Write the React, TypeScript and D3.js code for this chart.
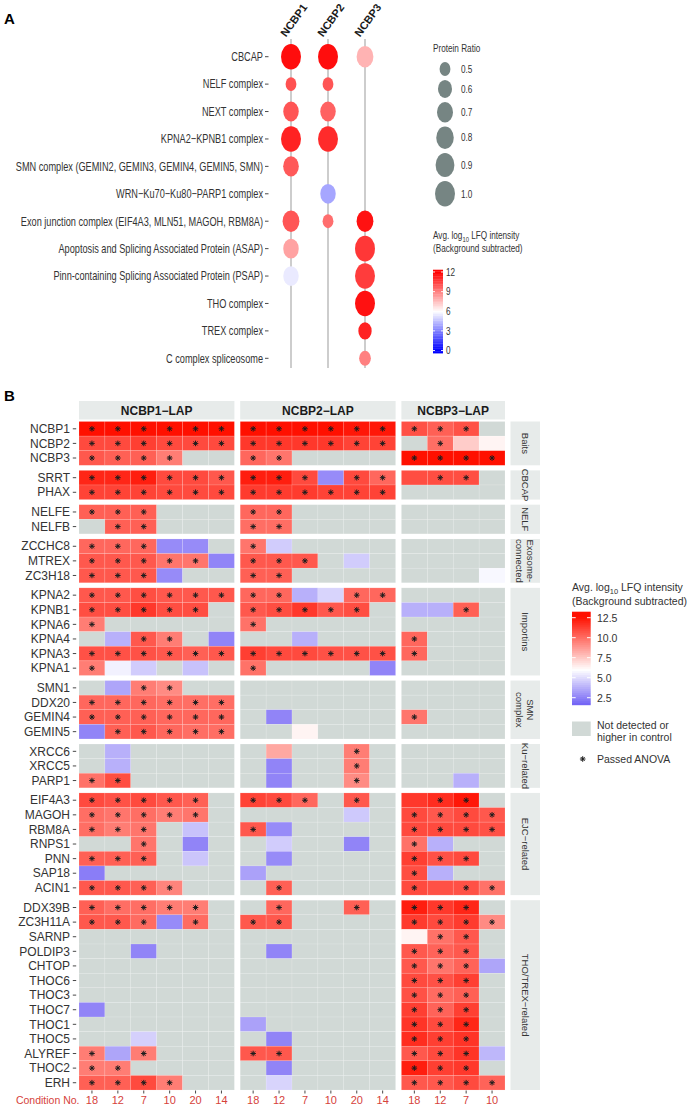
import React from 'react';
import * as d3 from 'd3';

// ---------------- Panel A data ----------------
const baitsA = ['NCBP1', 'NCBP2', 'NCBP3'];
const complexesA = [
  'CBCAP',
  'NELF complex',
  'NEXT complex',
  'KPNA2\u2212KPNB1 complex',
  'SMN complex (GEMIN2, GEMIN3, GEMIN4, GEMIN5, SMN)',
  'WRN\u2212Ku70\u2212Ku80\u2212PARP1 complex',
  'Exon junction complex (EIF4A3, MLN51, MAGOH, RBM8A)',
  'Apoptosis and Splicing Associated Protein (ASAP)',
  'Pinn-containing Splicing Associated Protein (PSAP)',
  'THO complex',
  'TREX complex',
  'C complex spliceosome',
];
// protein ratio per complex, for [NCBP1, NCBP2, NCBP3]
const ratioA: (number | null)[][] = [
  [1.0, 1.0, 0.75],
  [0.5, 0.5, null],
  [0.67, 0.67, null],
  [1.0, 1.0, null],
  [0.68, null, null],
  [null, 0.67, null],
  [0.75, 0.5, 0.75],
  [0.67, null, 1.0],
  [0.67, null, 1.0],
  [null, null, 1.0],
  [null, null, 0.57],
  [null, null, 0.52],
];
const intensityA: (number | null)[][] = [
  [11.7, 11.7, 7.8],
  [10.1, 10.0, null],
  [10.0, 9.7, null],
  [11.2, 11.0, null],
  [9.9, null, null],
  [null, 3.9, null],
  [10.0, 9.4, 11.6],
  [8.2, null, 10.7],
  [5.5, null, 10.6],
  [null, null, 11.6],
  [null, null, 11.2],
  [null, null, 9.0],
];
const ratioBreaks = [0.5, 0.6, 0.7, 0.8, 0.9, 1.0];
const colorBreaksA = [0, 3, 6, 9, 12];

// ---------------- Panel B data ----------------
const panelsB = ['NCBP1\u2212LAP', 'NCBP2\u2212LAP', 'NCBP3\u2212LAP'];
const conditionsB = [
  ['18', '12', '7', '10', '20', '14'],
  ['18', '12', '7', '10', '20', '14'],
  ['18', '12', '7', '10'],
];
const groupNames = ['Baits', 'CBCAP', 'NELF', 'Exosome-\nconnected', 'Importins', 'SMN\ncomplex', 'Ku\u2212related', 'EJC\u2212related', 'THO/TREX\u2212related'];
const groupSizes = [3, 2, 2, 3, 6, 4, 3, 7, 13];
const proteins = [
  'NCBP1', 'NCBP2', 'NCBP3',
  'SRRT', 'PHAX',
  'NELFE', 'NELFB',
  'ZCCHC8', 'MTREX', 'ZC3H18',
  'KPNA2', 'KPNB1', 'KPNA6', 'KPNA4', 'KPNA3', 'KPNA1',
  'SMN1', 'DDX20', 'GEMIN4', 'GEMIN5',
  'XRCC6', 'XRCC5', 'PARP1',
  'EIF4A3', 'MAGOH', 'RBM8A', 'RNPS1', 'PNN', 'SAP18', 'ACIN1',
  'DDX39B', 'ZC3H11A', 'SARNP', 'POLDIP3', 'CHTOP', 'THOC6', 'THOC3', 'THOC7', 'THOC1', 'THOC5', 'ALYREF', 'THOC2', 'ERH',
];
const N = null;
const lfqNCBP1: (number | null)[][] = [
  [12.8, 12.8, 12.8, 12.6, 12.6, 12.6],
  [11.0, 11.0, 11.3, 11.0, 11.0, 11.0],
  [10.6, 10.4, 10.4, 9.6, N, N],
  [12.0, 12.0, 12.2, 11.0, 11.0, 10.6],
  [11.2, 11.2, 11.2, 11.0, 11.0, 11.0],
  [10.4, 10.4, 10.4, N, N, N],
  [N, 10.4, 10.4, N, N, N],
  [10.2, 10.2, 10.2, 2.8, 2.8, N],
  [10.6, 10.6, 10.6, 9.8, 9.8, 2.6],
  [10.6, 10.6, 10.6, 2.8, N, N],
  [10.6, 10.6, 10.9, 10.6, 10.6, 10.6],
  [10.9, 10.9, 11.5, 10.9, 10.9, N],
  [9.6, N, N, N, N, N],
  [N, 3.8, 10.6, 9.6, N, 2.6],
  [10.8, 10.8, 10.8, 10.6, 10.4, 10.6],
  [9.6, 5.6, 4.6, N, 4.3, N],
  [N, 3.5, 9.6, 9.2, N, N],
  [10.2, 10.2, 10.2, 10.0, 10.0, 10.0],
  [10.4, 10.4, 10.4, 10.2, 10.2, 10.2],
  [2.6, 10.4, 10.6, 10.2, 10.0, 10.0],
  [N, 3.8, N, N, N, N],
  [N, 3.8, N, N, N, N],
  [9.9, 10.9, N, N, N, N],
  [11.0, 10.8, 11.0, 10.6, 10.4, N],
  [10.0, 9.8, 10.0, 9.6, 9.8, N],
  [10.0, 9.6, 9.8, N, 4.3, N],
  [N, N, 9.8, N, 2.6, N],
  [10.4, 10.4, 10.4, N, 4.4, N],
  [2.4, N, N, N, N, N],
  [10.6, 10.6, 10.4, 9.4, N, N],
  [10.4, 10.0, 10.0, 9.6, 9.6, N],
  [10.6, 10.6, 10.1, 2.8, 10.1, N],
  [N, N, N, N, N, N],
  [N, N, 2.6, N, N, N],
  [N, N, N, N, N, N],
  [N, N, N, N, N, N],
  [N, N, N, N, N, N],
  [2.6, N, N, N, N, N],
  [N, N, N, N, N, N],
  [N, N, 4.7, N, N, N],
  [9.6, 3.5, 9.6, N, N, N],
  [9.6, 9.6, N, N, N, N],
  [10.4, 10.4, 11.0, 9.6, N, N],
];
const anovaNCBP1 = [
  '111111', '111111', '1111..', '111111', '111111', '111...', '.11...', '111...', '11111.', '111...',
  '111111', '11111.', '1.....', '..11..', '111111', '1.....',
  '..11..', '111111', '111111', '.11111',
  '......', '......', '11....',
  '11111.', '11111.', '111...', '..1...', '111...', '......', '1111..',
  '11111.', '111.1.', '......', '......', '......', '......', '......', '......', '......', '......', '1.1...', '11....', '1111..',
];
const lfqNCBP2: (number | null)[][] = [
  [12.8, 12.8, 12.6, 12.6, 12.4, 12.4],
  [11.5, 11.5, 11.5, 11.5, 11.2, 11.2],
  [10.2, 9.8, N, N, N, N],
  [12.2, 12.2, 11.0, 2.8, 11.0, 10.2],
  [11.4, 11.4, 11.4, 11.2, 11.2, 11.2],
  [10.2, 10.2, N, N, N, N],
  [10.0, 10.0, N, N, N, N],
  [9.8, 4.6, N, N, N, N],
  [10.6, 10.6, 10.6, N, 4.6, N],
  [10.4, 10.4, N, N, N, N],
  [10.2, 10.2, 3.8, 4.8, 10.2, 10.2],
  [10.6, 10.9, 11.5, 10.6, 10.9, N],
  [9.9, N, N, N, N, N],
  [N, N, 3.8, N, N, N],
  [11.3, 11.0, 11.0, 10.8, 10.8, 10.8],
  [9.9, N, N, N, N, 2.6],
  [N, N, N, N, N, N],
  [N, N, N, N, N, N],
  [N, 2.6, N, N, N, N],
  [N, N, 6.3, N, N, N],
  [N, 8.4, N, N, 9.6, N],
  [N, 2.6, N, N, 9.6, N],
  [N, 2.6, N, N, 9.2, N],
  [11.2, 11.0, 10.2, N, 10.6, N],
  [N, N, N, N, 4.5, N],
  [10.6, 2.8, N, N, N, N],
  [N, 4.6, N, N, 2.6, N],
  [N, 2.8, N, N, N, N],
  [3.4, N, N, N, N, N],
  [N, 10.4, N, N, N, N],
  [N, 10.2, N, N, 10.4, N],
  [10.6, 10.6, N, N, N, N],
  [N, N, N, N, N, N],
  [N, 2.6, N, N, N, N],
  [N, N, N, N, N, N],
  [N, N, N, N, N, N],
  [N, N, N, N, N, N],
  [N, N, N, N, N, N],
  [3.4, N, N, N, N, N],
  [N, 2.6, N, N, N, N],
  [10.6, 10.6, N, N, N, N],
  [N, 2.6, N, N, N, N],
  [N, 4.8, N, N, N, N],
];
const anovaNCBP2 = [
  '111111', '111111', '11....', '111.11', '111111', '11....', '11....', '1.....', '111...', '11....',
  '11..11', '11111.', '1.....', '......', '111111', '1.....',
  '......', '......', '......', '......',
  '....1.', '....1.', '....1.',
  '111.1.', '......', '1.....', '......', '......', '......', '.1....',
  '.1..1.', '11....', '......', '......', '......', '......', '......', '......', '......', '......', '11....', '......', '......',
];
const lfqNCBP3: (number | null)[][] = [
  [10.8, 10.4, 10.8, N],
  [N, 10.0, 7.4, 6.3],
  [12.6, 12.6, 12.8, 12.6],
  [10.9, 10.9, 10.9, N],
  [N, N, N, N],
  [N, N, N, N],
  [N, N, N, N],
  [N, N, N, N],
  [N, N, N, N],
  [N, N, N, 5.8],
  [N, N, N, N],
  [3.8, 3.8, 10.4, N],
  [N, N, N, N],
  [10.2, N, N, N],
  [10.2, N, N, N],
  [N, N, N, N],
  [N, N, N, N],
  [N, N, N, N],
  [9.8, N, N, N],
  [N, N, N, N],
  [N, N, N, N],
  [N, N, N, N],
  [N, N, 3.8, N],
  [11.5, 11.8, 12.4, N],
  [11.0, 10.6, 11.0, 10.6],
  [11.0, 11.0, 11.0, 10.8],
  [9.9, 3.8, N, N],
  [11.3, 10.8, 11.0, N],
  [10.9, 3.8, N, N],
  [11.0, 10.8, 10.8, 9.9],
  [12.2, 11.5, 12.0, N],
  [11.4, 11.0, 11.4, 9.2],
  [6.3, 9.9, 10.6, N],
  [10.6, 10.3, 10.6, N],
  [10.6, 9.8, 10.3, 3.5],
  [11.0, 10.8, 11.3, N],
  [10.8, 10.1, 10.4, N],
  [11.3, 10.3, 11.3, N],
  [11.6, 11.0, 12.0, N],
  [11.8, 11.3, 11.6, N],
  [10.6, 11.0, 11.6, 4.0],
  [12.2, 11.3, 11.5, N],
  [10.6, 10.6, 11.0, 10.3],
];
const anovaNCBP3 = [
  '111.', '.1..', '1111', '.11.', '....', '....', '....', '....', '....', '....',
  '....', '..1.', '....', '1...', '1...', '....',
  '....', '....', '1...', '....',
  '....', '....', '....',
  '.11.', '1111', '1111', '1...', '111.', '1...', '1.11',
  '111.', '1111', '.11.', '111.', '111.', '111.', '111.', '111.', '111.', '111.', '111.', '111.', '1111',
];
const lfqPanels = [lfqNCBP1, lfqNCBP2, lfqNCBP3];
const anovaPanels = [anovaNCBP1, anovaNCBP2, anovaNCBP3];
const colorBreaksB = [2.5, 5.0, 7.5, 10.0, 12.5];

const FONT = '"Liberation Sans", Arial, Helvetica, sans-serif';
const TXT = '#333333';
const GREY = '#d1d9d6';
const STRIP = '#e7ebea';
const COND = '#d6423b';

function starPath(cx: number, cy: number, r = 2.8) {
  const k = r * 0.72;
  return `M${cx - r},${cy}H${cx + r}M${cx},${cy - r}V${cy + r}M${cx - k},${cy - k}L${cx + k},${cy + k}M${cx - k},${cy + k}L${cx + k},${cy - k}`;
}

export default function App() {
  // ---------- Panel A ----------
  const sx = 0.78; // horizontal squeeze of panel A graphics
  const tx = 0.735; // horizontal squeeze of panel A axis text
  const colA = d3.scalePoint<string>().domain(baitsA).range([291, 365]);
  const rowA = d3.scalePoint<string>().domain(complexesA).range([56.7, 358.3]);
  const colorA = d3.scaleLinear<string>().domain([0, 6, 12]).range(['#0000ff', '#ffffff', '#ff0000']).interpolate(d3.interpolateRgb).clamp(true);
  const sizeNorm = d3.scaleLinear().domain([0.48, 1]).range([0, 1]).clamp(true);
  const rPx = d3.scaleLinear().domain([0, 1]).range([5.5, 12.8]);
  const radius = (v: number) => rPx(Math.sqrt(sizeNorm(v)));

  const keyY: number[] = [];
  ratioBreaks.forEach((b, i) => {
    if (i === 0) keyY.push(69);
    else keyY.push(keyY[i - 1] + radius(ratioBreaks[i - 1]) + radius(b) + 4);
  });
  const barAy = d3.scaleLinear().domain([0, 12]).range([350.5, 272]);
  const barASteps = d3.range(-0.4, 12.3, 0.25);

  // ---------- Panel B ----------
  const cw = 25.9;
  const panelGap = 5.8;
  const px0 = 79;
  const rowH = 14.6;
  const groupGap = 5.09;
  const rowTop = 421.5;
  const panelStarts = conditionsB.reduce<number[]>((acc, c, i) => {
    acc.push(i === 0 ? px0 : acc[i - 1] + conditionsB[i - 1].length * cw + panelGap);
    return acc;
  }, []);
  const colScales = conditionsB.map((c, i) =>
    d3.scaleBand<string>().domain(c).range([panelStarts[i], panelStarts[i] + c.length * cw])
  );
  const groupStarts: number[] = [];
  let cum = 0;
  groupSizes.forEach((n, i) => {
    groupStarts.push(rowTop + cum * rowH + i * groupGap);
    cum += n;
  });
  const groupFirst: number[] = [];
  let gi0 = 0;
  groupSizes.forEach((n) => {
    groupFirst.push(gi0);
    gi0 += n;
  });
  const rowScales = groupSizes.map((n, i) =>
    d3.scaleBand<string>().domain(proteins.slice(groupFirst[i], groupFirst[i] + n)).range([groupStarts[i], groupStarts[i] + n * rowH])
  );
  const colorB = d3.scaleLinear<string>().domain([1.6, 6, 12.6]).range(['#7060f5', '#ffffff', '#ff1000']).interpolate(d3.interpolateRgb).clamp(true);
  const barBy = d3.scaleLinear().domain([2.5, 12.5]).range([697.7, 617.7]);
  const barBSteps = d3.range(1.6, 13.25, 0.25);
  const stripX0 = 510.5;
  const stripX1 = 540;
  const bottomY = groupStarts[groupStarts.length - 1] + groupSizes[groupSizes.length - 1] * rowH;

  return (
    <svg width={690} height={1106} style={{ position: 'absolute', left: 0, top: 0, background: '#fff' }} fontFamily={FONT}>
      {/* ================= Panel A ================= */}
      <text x={4} y={24} fontSize={15} fontWeight="bold" fill="#000">A</text>
      {baitsA.map((b) => (
        <text key={b} x={colA(b)! - 5} y={37.5} transform={`rotate(-54 ${colA(b)! - 5} 37.5)`} fontSize={11} fontWeight="bold" fill="#1a1a1a">{b}</text>
      ))}
      <g transform={`scale(${tx},1)`}>
        {complexesA.map((c) => (
          <text key={c} x={263 / tx} y={rowA(c)! + 4.3} textAnchor="end" fontSize={12.5} fill={TXT}>{c}</text>
        ))}
      </g>
      <g transform={`scale(${sx},1)`}>
        {baitsA.map((b) => (
          <line key={b} x1={colA(b)! / sx} x2={colA(b)! / sx} y1={39} y2={368} stroke="#8f8f8f" strokeWidth={1} />
        ))}
        {complexesA.map((c) => (
          <line key={c} x1={265 / sx} x2={268.5 / sx} y1={rowA(c)!} y2={rowA(c)!} stroke={TXT} strokeWidth={1} />
        ))}
        {complexesA.map((c, ci) =>
          baitsA.map((b, bi) => {
            const r = ratioA[ci][bi];
            const v = intensityA[ci][bi];
            if (r == null || v == null) return null;
            return <circle key={c + b} cx={colA(b)! / sx} cy={rowA(c)!} r={radius(r)} fill={colorA(v)} />;
          })
        )}
        {/* legend: protein ratio */}
        <text x={433 / sx} y={52.5} fontSize={10.5} fill={TXT}>Protein Ratio</text>
        {ratioBreaks.map((b, i) => (
          <g key={b}>
            <circle cx={445 / sx} cy={keyY[i]} r={radius(b)} fill="#768583" />
            <text x={461 / sx} y={keyY[i] + 3.8} fontSize={10.5} fill={TXT}>{b.toFixed(1)}</text>
          </g>
        ))}
        {/* legend: colorbar */}
        <text x={433 / sx} y={239.5} fontSize={10.5} fill={TXT}>
          Avg. log<tspan fontSize={7.5} dy={3}>10</tspan><tspan dy={-3}> LFQ intensity</tspan>
        </text>
        <text x={433 / sx} y={252.5} fontSize={10.5} fill={TXT}>(Background subtracted)</text>
        {barASteps.map((s) => (
          <rect key={s} x={433 / sx} y={barAy(s + 0.25)} width={10 / sx} height={barAy(s) - barAy(s + 0.25) + 0.3} fill={colorA(s + 0.125)} />
        ))}
        {colorBreaksA.map((b) => (
          <g key={b}>
            <line x1={433 / sx} x2={435 / sx} y1={barAy(b)} y2={barAy(b)} stroke="#fff" strokeWidth={1} />
            <line x1={441 / sx} x2={443 / sx} y1={barAy(b)} y2={barAy(b)} stroke="#fff" strokeWidth={1} />
            <text x={446 / sx} y={barAy(b) + 3.8} fontSize={10.5} fill={TXT}>{b}</text>
          </g>
        ))}
      </g>

      {/* ================= Panel B ================= */}
      <text x={4} y={401} fontSize={15} fontWeight="bold" fill="#000">B</text>
      {panelsB.map((p, pi) => (
        <g key={p}>
          <rect x={panelStarts[pi]} y={401} width={conditionsB[pi].length * cw} height={18.5} fill={STRIP} />
          <text x={panelStarts[pi] + (conditionsB[pi].length * cw) / 2} y={414.5} textAnchor="middle" fontSize={12} fontWeight="bold" fill="#1a1a1a">{p}</text>
        </g>
      ))}
      {groupNames.map((g, gi) => {
        const y0 = groupStarts[gi];
        const h = groupSizes[gi] * rowH;
        const lines = g.split('\n');
        const cx = (stripX0 + stripX1) / 2;
        const cy = y0 + h / 2;
        return (
          <g key={g}>
            <rect x={stripX0} y={y0} width={stripX1 - stripX0} height={h} fill={STRIP} />
            <g transform={`translate(${cx},${cy}) rotate(90)`}>
              {lines.map((l, li) => (
                <text key={li} x={0} y={(li - (lines.length - 1) / 2) * 11.4} textAnchor="middle" dominantBaseline="central" fontSize={9.5} fill={TXT}>{l}</text>
              ))}
            </g>
          </g>
        );
      })}
      {/* row labels */}
      {groupNames.map((g, gi) =>
        rowScales[gi].domain().map((prot) => {
          const yc = rowScales[gi](prot)! + rowH / 2;
          return (
            <g key={prot}>
              <text x={70} y={yc + 4.2} textAnchor="end" fontSize={12} fill={TXT}>{prot}</text>
              <line x1={72.8} x2={76.2} y1={yc} y2={yc} stroke={TXT} strokeWidth={0.9} />
            </g>
          );
        })
      )}
      {/* tiles */}
      {panelsB.map((p, pi) =>
        groupNames.map((g, gi) =>
          rowScales[gi].domain().map((prot, ri) => {
            const pIdx = groupFirst[gi] + ri;
            return conditionsB[pi].map((c, ci) => {
              const v = lfqPanels[pi][pIdx][ci];
              const x = colScales[pi](c)!;
              const y = rowScales[gi](prot)!;
              const star = anovaPanels[pi][pIdx][ci] === '1';
              return (
                <g key={`${pi}-${prot}-${ci}`}>
                  <rect x={x} y={y} width={cw} height={rowH} fill={v == null ? GREY : colorB(v)} stroke="rgba(255,255,255,0.28)" strokeWidth={0.5} />
                  {star && <path d={starPath(x + cw / 2, y + rowH / 2)} stroke="#1c1c1c" strokeWidth={1} fill="none" />}
                </g>
              );
            });
          })
        )
      )}
      {/* bottom axis */}
      {panelsB.map((p, pi) =>
        conditionsB[pi].map((c) => {
          const xc = colScales[pi](c)! + cw / 2;
          return (
            <g key={`ax${pi}${c}`}>
              <line x1={xc} x2={xc} y1={bottomY + 0.5} y2={bottomY + 3.5} stroke={TXT} strokeWidth={0.9} />
              <text x={xc} y={1104} textAnchor="middle" fontSize={11} fill={COND}>{c}</text>
            </g>
          );
        })
      )}
      <text x={79.5} y={1104} textAnchor="end" fontSize={10.5} fill={COND}>Condition No.</text>

      {/* legend B */}
      <text x={572} y={591} fontSize={10.5} fill={TXT}>
        Avg. log<tspan fontSize={7.5} dy={3}>10</tspan><tspan dy={-3}> LFQ intensity</tspan>
      </text>
      <text x={572} y={604.5} fontSize={10.5} fill={TXT}>(Background subtracted)</text>
      {barBSteps.map((s) => (
        <rect key={s} x={572} y={barBy(Math.min(s + 0.25, 13.25))} width={18.7} height={barBy(s) - barBy(Math.min(s + 0.25, 13.25)) + 0.3} fill={colorB(s + 0.125)} />
      ))}
      {colorBreaksB.map((b) => (
        <g key={b}>
          <line x1={572} x2={575.7} y1={barBy(b)} y2={barBy(b)} stroke="#fff" strokeWidth={1} />
          <line x1={587} x2={590.7} y1={barBy(b)} y2={barBy(b)} stroke="#fff" strokeWidth={1} />
          <text x={597} y={barBy(b) + 3.8} fontSize={10.5} fill={TXT}>{b.toFixed(1)}</text>
        </g>
      ))}
      <rect x={572} y={721.5} width={18.7} height={14.5} fill={GREY} />
      <text x={597} y={728.8} fontSize={10.5} fill={TXT}>Not detected or</text>
      <text x={597} y={740.6} fontSize={10.5} fill={TXT}>higher in control</text>
      <path d={starPath(582.7, 759)} stroke="#1c1c1c" strokeWidth={1} fill="none" />
      <text x={597} y={762.8} fontSize={10.5} fill={TXT}>Passed ANOVA</text>
    </svg>
  );
}
